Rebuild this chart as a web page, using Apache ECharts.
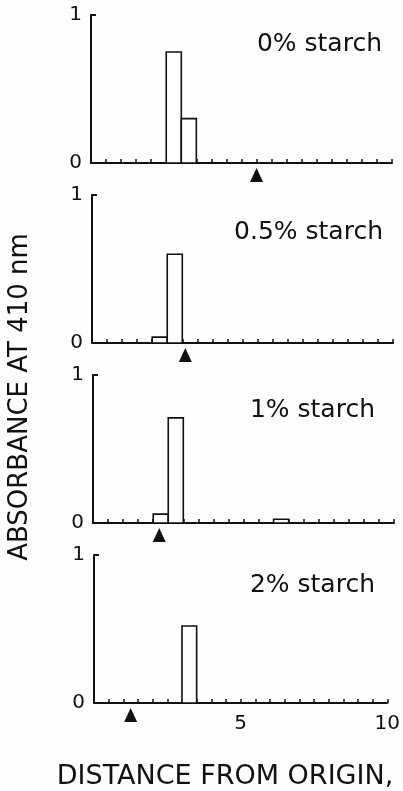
<!DOCTYPE html>
<html>
<head>
<meta charset="utf-8">
<script src="https://cdn.jsdelivr.net/npm/echarts@6/dist/echarts.min.js"></script>
<style>
  html, body { margin: 0; padding: 0; background: #fefefc; }
  #chart { width: 403px; height: 791px; }
</style>
</head>
<body>
<div id="chart"></div>
<script>
// values (absorbance per 0.5 cm slice)
const panelTitles = ['0% starch', '0.5% starch', '1% starch', '2% starch'];
const bins0 = [[2.5, 3.0, 0.75], [3.0, 3.5, 0.30]];
const bins05 = [[2.0, 2.5, 0.04], [2.5, 3.0, 0.60]];
const bins1 = [[2.0, 2.5, 0.06], [2.5, 3.0, 0.71], [6.0, 6.5, 0.025]];
const bins2 = [[3.0, 3.5, 0.52]];
const frontMarks = [5.5, 3.1, 2.2, 1.25];
const xTickLabels = [5, 10];
const yTickLabels = [0, 1];

const allBins = [bins0, bins05, bins1, bins2];
const font = 'DejaVu Sans';

// layout of the four stacked panels
const lefts = [91, 92, 93, 94];
const tops = [15, 195, 375, 555];
const titleRight = [382, 383, 375, 375];
const titleY = [44, 232, 410, 585];

const chartDom = document.getElementById('chart');
const myChart = echarts.init(chartDom, null, { renderer: 'canvas' });

const grids = [], xAxes = [], yAxes = [], series = [], texts = [];

allBins.forEach((bins, i) => {
  const last = i === allBins.length - 1;
  grids.push({ left: lefts[i], top: tops[i], width: 301, height: 148 });
  xAxes.push({
    type: 'value',
    gridIndex: i,
    min: 0,
    max: 10,
    interval: 0.5,
    splitLine: { show: false },
    axisLine: { lineStyle: { color: '#111', width: 2 } },
    axisTick: { show: true, inside: true, length: 4, lineStyle: { color: '#111', width: 1.5 } },
    axisLabel: {
      show: last,
      margin: 11,
      color: '#111',
      fontFamily: font,
      fontSize: 20,
      formatter: (v) => (xTickLabels.indexOf(v) >= 0 ? String(v) : ''),
    },
  });
  yAxes.push({
    type: 'value',
    gridIndex: i,
    min: 0,
    max: 1,
    interval: 1,
    splitLine: { show: false },
    axisLine: { show: true, lineStyle: { color: '#111', width: 2 } },
    axisTick: { show: true, inside: true, length: 5, lineStyle: { color: '#111', width: 2 } },
    axisLabel: {
      margin: 9,
      color: '#111',
      fontFamily: font,
      fontSize: 20,
      formatter: (v) => (yTickLabels.indexOf(v) >= 0 ? String(v) : ''),
    },
  });
  series.push({
    type: 'custom',
    xAxisIndex: i,
    yAxisIndex: i,
    data: bins,
    renderItem: (params, api) => {
      const p0 = api.coord([api.value(0), api.value(2)]);
      const p1 = api.coord([api.value(1), 0]);
      return {
        type: 'rect',
        shape: { x: p0[0], y: p0[1], width: p1[0] - p0[0], height: p1[1] - p0[1] },
        style: { fill: '#fff', stroke: '#111', lineWidth: 1.6 },
      };
    },
  });
  series.push({
    type: 'scatter',
    xAxisIndex: i,
    yAxisIndex: i,
    clip: false,
    data: [[frontMarks[i], 0]],
    symbol: 'triangle',
    symbolSize: [13, 14],
    symbolOffset: [0, 12],
    itemStyle: { color: '#111', opacity: 1 },
    z: 5,
  });
  texts.push({
    type: 'text',
    x: titleRight[i],
    y: titleY[i],
    style: {
      text: panelTitles[i],
      align: 'right',
      verticalAlign: 'middle',
      fill: '#111',
      font: '25px "' + font + '"',
    },
  });
});

texts.push({
  type: 'text',
  x: 20,
  y: 397,
  rotation: Math.PI / 2,
  style: {
    text: 'ABSORBANCE AT 410 nm',
    align: 'center',
    verticalAlign: 'middle',
    fill: '#111',
    font: '26px "' + font + '"',
  },
});
texts.push({
  type: 'text',
  x: 225,
  y: 777,
  style: {
    text: 'DISTANCE FROM ORIGIN,',
    align: 'center',
    verticalAlign: 'middle',
    fill: '#111',
    font: '27px "' + font + '"',
  },
});

const options = {
  backgroundColor: '#fefefc',
  animation: false,
  grid: grids,
  xAxis: xAxes,
  yAxis: yAxes,
  series: series,
  graphic: texts,
};
myChart.setOption(options);
</script>
</body>
</html>
